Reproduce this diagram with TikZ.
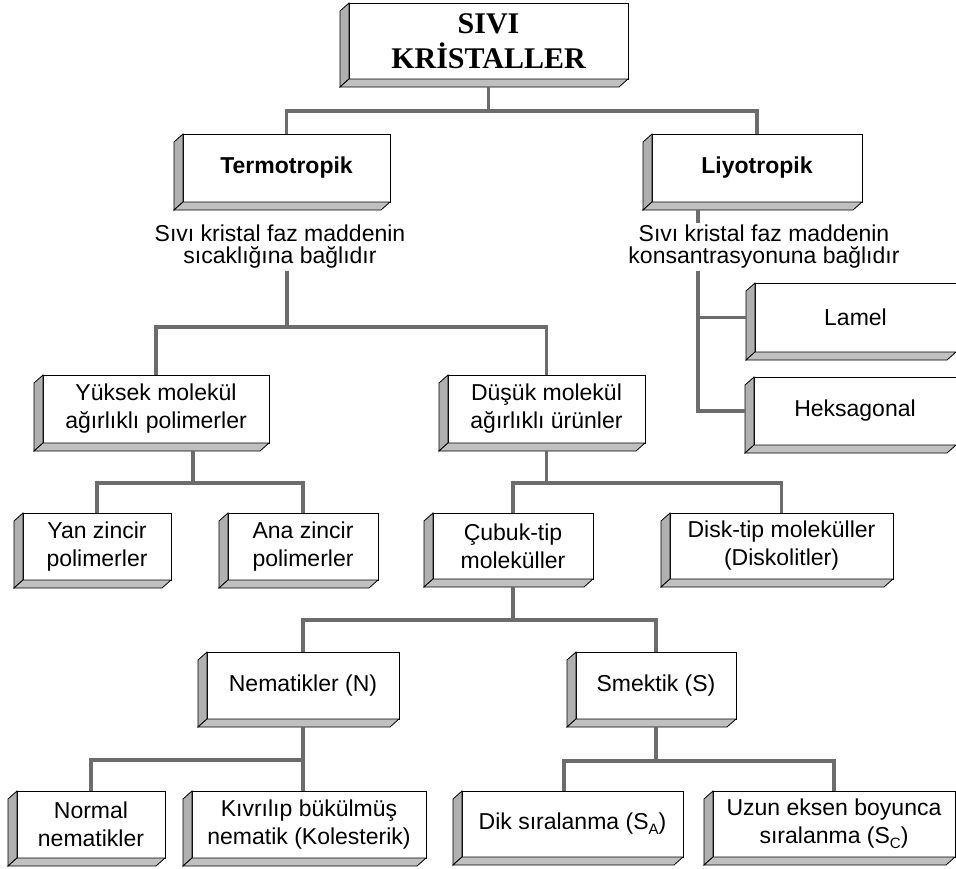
\documentclass[tikz,border=0pt]{standalone}
\usepackage{fontspec}
\setmainfont{Liberation Sans}
\newfontfamily\titlefont{Liberation Serif}
\definecolor{connc}{HTML}{6C6C6C}
\definecolor{bevl}{HTML}{B0B0B0}
\definecolor{bevb}{HTML}{C0C0C0}
\newcommand\bevelbox[1]{%
  \filldraw[fill=bevl,draw=black,line width=0.8pt,line join=miter]
    (#1.north west) -- ([xshift=-9pt,yshift=-8pt]#1.north west) --
    ([xshift=-9pt,yshift=-8pt]#1.south west) -- (#1.south west) -- cycle;
  \filldraw[fill=bevb,draw=black,line width=0.8pt,line join=miter]
    (#1.south west) -- ([xshift=-9pt,yshift=-8pt]#1.south west) --
    ([xshift=-9pt,yshift=-8pt]#1.south east) -- (#1.south east) -- cycle;}
\newcommand\subsc[1]{\raisebox{-5pt}{\fontsize{15}{15}\selectfont #1}}
\begin{document}
\begin{tikzpicture}[x=1pt,y=-1pt,
  box/.style={draw=black,line width=1pt,fill=white,inner sep=0pt,outer sep=0pt,
    align=center,font=\fontsize{23}{28}\selectfont},
  conn/.style={draw=connc,line width=3.4pt,line join=miter},
  lbl/.style={inner sep=2pt,align=center,font=\fontsize{23}{22}\selectfont}]
\useasboundingbox[fill=white] (0,0) rectangle (956,868);

% boxes
\node[box,minimum width=279pt,minimum height=76pt,font=\titlefont\bfseries\fontsize{30}{35}\selectfont] (top) at (488.5,41) {SIVI\\KRİSTALLER};
\bevelbox{top}
\node[box,minimum width=207pt,minimum height=68pt] (term) at (286.5,168) {\bfseries Termotropik};
\bevelbox{term}
\node[box,minimum width=210pt,minimum height=68pt] (liyo) at (757,168) {\bfseries Liyotropik};
\bevelbox{liyo}
\node[lbl] (ltxt) at (280,247) {Sıvı kristal faz maddenin\\sıcaklığına bağlıdır};
\node[lbl] (rtxt) at (764,247) {Sıvı kristal faz maddenin\\konsantrasyonuna bağlıdır};
\node[box,minimum width=201pt,minimum height=69pt] (lam) at (855.5,317.5) {Lamel};
\bevelbox{lam}
\node[box,minimum width=202pt,minimum height=68pt] (hek) at (855,411) {Heksagonal};
\bevelbox{hek}
\node[box,minimum width=226pt,minimum height=68pt] (yuk) at (156,409) {Yüksek molekül\\ağırlıklı polimerler};
\bevelbox{yuk}
\node[box,minimum width=197pt,minimum height=68pt] (dus) at (546.5,409) {Düşük molekül\\ağırlıklı ürünler};
\bevelbox{dus}
\node[box,minimum width=148pt,minimum height=67pt] (yan) at (97,546.5) {Yan zincir\\polimerler};
\bevelbox{yan}
\node[box,minimum width=150pt,minimum height=67pt] (ana) at (303,546.5) {Ana zincir\\polimerler};
\bevelbox{ana}
\node[box,minimum width=160pt,minimum height=66pt] (cub) at (513,546) {Çubuk-tip\\moleküller};
\bevelbox{cub}
\node[box,minimum width=223pt,minimum height=66pt] (disk) at (781.5,546) {Disk-tip moleküller\\(Diskolitler)};
\bevelbox{disk}
\node[box,minimum width=192pt,minimum height=67pt] (nem) at (303,685.5) {Nematikler (N)};
\bevelbox{nem}
\node[box,minimum width=160pt,minimum height=67pt] (smk) at (656,685.5) {Smektik (S)};
\bevelbox{smk}
\node[box,minimum width=148pt,minimum height=67pt] (nor) at (91,824.5) {Normal\\nematikler};
\bevelbox{nor}
\node[box,minimum width=234pt,minimum height=67pt] (kiv) at (309,824.5) {Kıvrılıp bükülmüş\\nematik (Kolesterik)};
\bevelbox{kiv}
\node[box,minimum width=221pt,minimum height=66pt] (dik) at (572.5,824) {Dik sıralanma (S\subsc{A})};
\bevelbox{dik}
\node[box,minimum width=242pt,minimum height=66pt] (uzn) at (834,824) {Uzun eksen boyunca\\sıralanma (S\subsc{C})};
\bevelbox{uzn}

% junctions
\coordinate (j0) at (488.5,111);
\coordinate (j1) at (287,327);
\coordinate (j2) at (546.5,483);
\coordinate (j3) at (193,483);
\coordinate (j4) at (513,620);
\coordinate (j5) at (303,760);
\coordinate (j6) at (656,761);
\coordinate (lb) at ([xshift=-59pt,yshift=-8pt]liyo.south);

% connectors
\draw[conn] (term.north) |- (j0) -| (liyo.north);
\draw[conn] (j0) -- ([yshift=-8pt]top.south);

\draw[conn] (yuk.north) |- (j1) -| (dus.north);
\draw[conn] (j1) -- (j1 |- ltxt.south);

\draw[conn] (lb) -- (lb |- rtxt.north);
\draw[conn] (lb |- rtxt.south) |- ([xshift=-9pt]hek.west);
\draw[conn] (lb |- lam.west) -- ([xshift=-9pt]lam.west);

\draw[conn] (yan.north) |- (j3) -| (ana.north);
\draw[conn] (j3) -- ([xshift=37pt,yshift=-8pt]yuk.south);

\draw[conn] (cub.north) |- (j2) -| (disk.north);
\draw[conn] (j2) -- ([yshift=-8pt]dus.south);

\draw[conn] (nem.north) |- (j4) -| (smk.north);
\draw[conn] (j4) -- ([yshift=-8pt]cub.south);

\draw[conn] (nor.north) |- (j5) -- (j5 |- kiv.north);
\draw[conn] (j5) -- ([yshift=-8pt]nem.south);

\draw[conn] ([xshift=-8.5pt]dik.north) |- (j6) -| (uzn.north);
\draw[conn] (j6) -- ([yshift=-8pt]smk.south);
\end{tikzpicture}
\end{document}
